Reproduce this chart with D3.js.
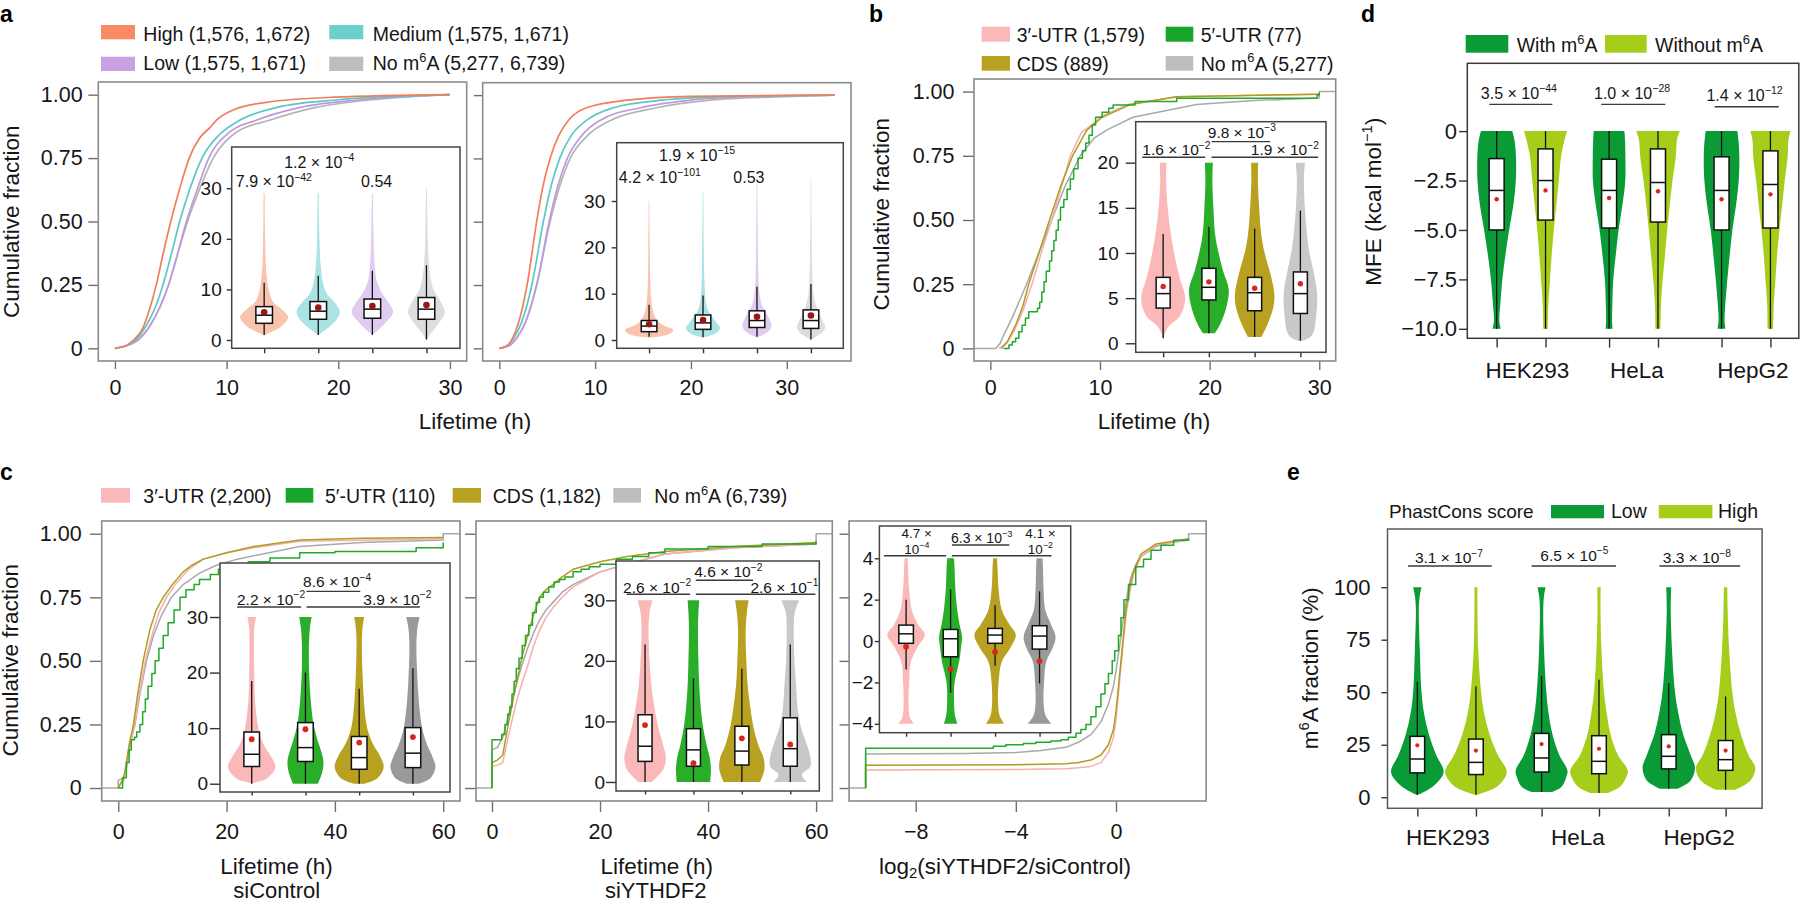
<!DOCTYPE html>
<html>
<head>
<meta charset="utf-8">
<script src="https://cdn.jsdelivr.net/npm/d3@7/dist/d3.min.js"></script>
<style>
html,body{margin:0;padding:0;background:#fff;}
svg{display:block;}
</style>
</head>
<body>
<svg id="fig" width="1800" height="904" xmlns="http://www.w3.org/2000/svg"></svg>
<script>
// ======================= DATA =======================
const cumTicks = [0, 0.25, 0.5, 0.75, 1];
const cumTickLabels = ['0', '0.25', '0.50', '0.75', '1.00'];
const lifeTicks30 = [0, 10, 20, 30];
const lifeTickLabels30 = ['0', '10', '20', '30'];
const lifeTicks60 = [0, 20, 40, 60];
const lifeTickLabels60 = ['0', '20', '40', '60'];
const log2Ticks = [-8, -4, 0];
const log2TickLabels = ['\u22128', '\u22124', '0'];
const insetTicks30 = [0, 10, 20, 30];
const insetTickLabels30 = ['0', '10', '20', '30'];
const insetTicks20 = [0, 5, 10, 15, 20];
const insetTickLabels20 = ['0', '5', '10', '15', '20'];
const insetTicksLog = [-4, -2, 0, 2, 4];
const insetTickLabelsLog = ['\u22124', '\u22122', '0', '2', '4'];

// ---------- panel a ----------
const aLegendLabels = ['High (1,576, 1,672)', 'Medium (1,575, 1,671)', 'Low (1,575, 1,671)', 'No m^6^A (5,277, 6,739)'];
const aLeftHigh = [[0,0],[1,0.01],[1.6,0.03],[2.5,0.08],[3,0.14],[3.7,0.25],[4.3,0.37],[5,0.5],[5.8,0.63],[6.65,0.75],[7.6,0.83],[8.5,0.87],[9.1,0.9],[10.6,0.94],[13.6,0.97],[19.6,0.99],[30,1]];
const aLeftMedium = [[0,0],[1,0.01],[1.8,0.03],[2.8,0.09],[3.5,0.15],[4.3,0.25],[5.1,0.38],[5.8,0.5],[6.8,0.64],[7.8,0.75],[9.3,0.84],[11.2,0.9],[14.5,0.95],[20,0.98],[30,1]];
const aLeftLow = [[0,0],[1,0.01],[2,0.03],[3,0.08],[4,0.16],[4.8,0.25],[5.6,0.37],[6.4,0.5],[7.4,0.63],[8.4,0.75],[10.2,0.85],[12.7,0.9],[16.6,0.95],[22,0.98],[30,1]];
const aLeftNo = [[0,0],[1,0.01],[2,0.03],[3,0.08],[4,0.16],[4.8,0.25],[5.6,0.37],[6.5,0.5],[7.6,0.63],[8.8,0.75],[10.8,0.85],[13.9,0.9],[18,0.95],[23,0.98],[30,1]];
const aRightHigh = [[0,0],[0.8,0.01],[1.4,0.04],[2,0.1],[2.9,0.25],[3.9,0.5],[4.5,0.63],[5.3,0.75],[6.2,0.84],[7.2,0.9],[9.1,0.95],[13.3,0.98],[20,0.995],[35,1]];
const aRightMedium = [[0,0],[0.8,0.01],[1.5,0.04],[2.3,0.1],[3.4,0.25],[4.6,0.5],[5.4,0.64],[6.3,0.75],[7.5,0.84],[9.1,0.9],[11.9,0.95],[17,0.98],[25,0.995],[35,1]];
const aRightLow = [[0,0],[1,0.01],[1.8,0.04],[2.7,0.1],[3.9,0.25],[5.2,0.5],[6.1,0.64],[7.1,0.75],[8.6,0.84],[10.5,0.9],[14.7,0.95],[20,0.98],[27,0.995],[35,1]];
const aRightNo = [[0,0],[1,0.01],[1.8,0.04],[2.7,0.1],[3.9,0.25],[5.3,0.5],[6.3,0.64],[7.4,0.75],[9.2,0.84],[11.6,0.9],[16.4,0.95],[22,0.98],[29,0.993],[35,1]];
// box stats: [lower whisker, Q1, median, Q3, upper whisker, mean]
const aLeftBoxes = [[1.0,3.3,4.9,6.6,11.3,5.5],[1.0,4.1,5.7,7.6,12.7,6.4],[1.0,4.3,6.1,8.1,13.7,6.7],[0.1,4.1,6.1,8.4,14.8,6.9]];
const aRightBoxes = [[0.7,1.8,3.0,4.2,7.6,3.4],[0.6,2.3,3.7,5.4,9.6,4.3],[0.7,2.7,4.2,6.3,11.5,5.0],[0.1,2.5,4.2,6.5,12.1,5.3]];
// violin density profiles: [value, relative density]
const aLeftViolins = [
  [[1,0],[1.5,6],[2.5,16],[4.5,24],[6,18],[7.5,9],[10,4.5],[14,2],[20,1],[29,0.5]],
  [[1,0],[2,7],[3.5,16],[5.5,21.7],[7.5,16],[9,9],[11,5],[15,2.3],[22,1],[29,0.5]],
  [[1,0],[2.2,7],[3.8,15],[5.5,20.8],[7.5,16],[9.5,9],[12,4],[16,2],[22,1],[29,0.5]],
  [[0,0],[1.5,5],[3.5,13],[5.5,18.3],[8,13],[10,7],[13,3.5],[18,1.6],[25,0.8],[30,0.4]]
];
const aRightViolins = [
  [[0.5,0],[0.8,12],[1.5,22],[2.2,24],[3,16],[4,9],[5.5,5],[8,2.5],[12,1.3],[20,0.7],[30,0.3]],
  [[0.5,0],[1,8],[1.8,15],[2.6,17],[3.6,14],[4.8,10],[6,6],[8,3],[12,1.5],[20,0.8],[32,0.3]],
  [[0.6,0],[1.2,7],[2.2,13],[3.2,14.5],[4.5,12.5],[6,9],[7.5,5],[10,2.5],[15,1.3],[25,0.7],[34,0.3]],
  [[0,0],[0.8,6],[1.8,12],[2.8,14.2],[4,12],[5.5,9],[7.5,5],[10,2.5],[15,1.3],[25,0.6],[35,0.3]]
];
const aLeftPvals = ['7.9 \u00d7 10^\u221242^', '1.2 \u00d7 10^\u22124^', '0.54'];
const aRightPvals = ['4.2 \u00d7 10^\u2212101^', '1.9 \u00d7 10^\u221215^', '0.53'];

// ---------- panel b ----------
const bLegendLabels = ['3\u2032-UTR (1,579)', '5\u2032-UTR (77)', 'CDS (889)', 'No m^6^A (5,277)'];
const b3UTR = [[0.8,0],[1.5,0.02],[2.2,0.07],[3,0.15],[3.8,0.25],[4.7,0.38],[5.6,0.5],[6.5,0.63],[7.3,0.75],[8.3,0.84],[9.4,0.875],[10,0.9],[12.5,0.95],[17,0.98],[30,0.99]];
const bCDS = [[1,0],[1.6,0.03],[2.4,0.1],[3,0.17],[3.5,0.25],[4.5,0.38],[5.4,0.5],[6.4,0.63],[7.5,0.75],[8.8,0.85],[10.2,0.9],[12.8,0.95],[17,0.98],[30,0.99]];
const bNo = [[-1.49,0],[0.5,0],[0.9,0.02],[1.2,0.05],[2,0.12],[2.6,0.18],[3.3,0.25],[4.4,0.37],[5.6,0.5],[6.8,0.63],[8.2,0.75],[9.5,0.82],[10.6,0.85],[13,0.9],[18.8,0.95],[24,0.965],[30,0.975],[30,1],[31.5,1]];
const b5UTR = [[1.2,0],[1.7,0.013],[2,0.026],[2.3,0.04],[2.6,0.065],[2.9,0.09],[3.2,0.117],[3.5,0.143],[4.3,0.156],[4.5,0.18],[4.7,0.22],[4.9,0.26],[5.1,0.3],[5.4,0.34],[5.6,0.38],[5.8,0.42],[6,0.46],[6.2,0.5],[6.4,0.55],[6.7,0.58],[7,0.62],[7.3,0.66],[7.6,0.7],[8,0.74],[8.4,0.77],[8.7,0.8],[9,0.83],[9.3,0.87],[9.6,0.9],[10.2,0.92],[10.8,0.935],[11.2,0.948],[13.2,0.961],[17,0.974],[29.8,0.987],[30,0.995]];
const bBoxes = [[0.55,3.9,5.5,7.3,12.1,6.3],[1.1,4.8,6.2,8.3,12.9,6.8],[0.7,3.6,5.6,7.3,12.7,6.1],[0.3,3.3,5.5,7.9,14.7,6.6]];
const bViolins = [
  [[0.5,0],[1.8,5],[3,16.7],[5,22],[7,17.2],[9,12.8],[12,7.8],[15,4.5],[18,3],[20,3.3]],
  [[1.1,5.8],[2,10.8],[4,17.5],[6,19.8],[8,14.2],[10,9.7],[12,6.3],[15,4.5],[18,3.5],[20,4]],
  [[0.7,6.7],[2,12.5],[4,18.7],[5.5,19.7],[8,15],[10,10],[12,6.7],[15,4.5],[18,3.3],[20,3.5]],
  [[0.2,0],[0.6,9],[1.2,13],[3,15.8],[5.5,16.7],[8,13],[10,9.2],[12,6.7],[15,4.5],[18,3.5],[20,4.5]]
];
const bPvals = ['1.6 \u00d7 10^\u22122^', '9.8 \u00d7 10^\u22123^', '1.9 \u00d7 10^\u22122^'];

// ---------- panel c ----------
const cLegendLabels = ['3\u2032-UTR (2,200)', '5\u2032-UTR (110)', 'CDS (1,182)', 'No m^6^A (6,739)'];
const c1No = [[-3.06,0],[0,0],[0,0.03],[1,0.04],[1.5,0.08],[2,0.15],[2.5,0.2],[3.1,0.25],[4,0.37],[5.2,0.5],[6.5,0.6],[8,0.68],[9.8,0.75],[12,0.8],[15,0.845],[18,0.875],[22,0.9],[33.5,0.95],[45,0.965],[60,0.975],[60,1],[63.1,1]];
const c1CDS = [[0,0],[0.5,0.02],[1,0.04],[1.5,0.1],[2,0.17],[2.8,0.25],[3.6,0.37],[4.6,0.5],[5.8,0.62],[7,0.7],[8.3,0.75],[10,0.8],[12,0.85],[13.5,0.875],[15.7,0.9],[20,0.925],[25,0.95],[33.5,0.975],[45,0.982],[60,0.985]];
const c13UTR = [[0,0],[0.5,0.02],[1,0.03],[1.5,0.08],[2,0.15],[3,0.25],[3.9,0.37],[5,0.5],[6.2,0.6],[7.5,0.69],[8.9,0.75],[10.5,0.8],[13,0.86],[15.7,0.9],[20,0.925],[25,0.945],[33.5,0.97],[60,0.98]];
const c15UTR = [[0,0],[0.8,0.04],[1.5,0.1],[2,0.15],[2.4,0.19],[3,0.2],[3.4,0.22],[4,0.25],[4.5,0.3],[5,0.35],[5.5,0.4],[6.2,0.45],[6.8,0.5],[7.5,0.55],[8.3,0.6],[9.2,0.65],[10.3,0.7],[11.4,0.75],[12.5,0.78],[14,0.8],[15,0.82],[17,0.84],[18.5,0.86],[20,0.875],[24,0.89],[28,0.905],[33.5,0.925],[40,0.93],[55,0.945],[60,0.965]];
const c2No = [[-2.96,0],[0,0],[0,0.15],[1,0.16],[2,0.2],[3,0.28],[4.4,0.4],[5.5,0.48],[6.6,0.55],[7.7,0.61],[8.8,0.66],[10,0.7],[11.3,0.73],[13,0.77],[15,0.8],[20,0.85],[25,0.88],[32,0.92],[45,0.945],[60,0.96],[60,1],[63,1]];
const c2CDS = [[0,0],[0,0.1],[1,0.11],[2,0.13],[3,0.25],[4.4,0.4],[5.5,0.51],[6.6,0.6],[7.7,0.68],[8.8,0.75],[10,0.78],[11.3,0.8],[13,0.83],[15,0.86],[20,0.89],[25,0.91],[32,0.93],[45,0.95],[60,0.965]];
const c23UTR = [[0,0],[0,0.085],[1,0.09],[2,0.1],[3,0.2],[4.4,0.33],[5.5,0.41],[6.6,0.48],[7.7,0.56],[8.8,0.62],[10,0.67],[11.3,0.71],[13,0.75],[15,0.79],[20,0.85],[25,0.88],[32,0.92],[45,0.945],[60,0.96]];
const c25UTR = [[0,0],[0,0.19],[1.8,0.21],[2.4,0.25],[2.9,0.29],[3.3,0.32],[3.7,0.37],[4.1,0.42],[4.5,0.47],[5,0.51],[5.6,0.56],[6.2,0.6],[6.8,0.64],[7.5,0.69],[8.2,0.73],[8.8,0.75],[9.5,0.77],[10.5,0.79],[11.5,0.81],[12.5,0.82],[13.5,0.83],[15,0.85],[16.5,0.86],[18,0.87],[20,0.88],[23,0.9],[26,0.91],[29,0.925],[32,0.94],[40,0.95],[50,0.96],[60,0.97]];
const c3No = [[-10.66,0],[-10,0],[-10,0.134],[-6,0.136],[-4,0.14],[-3,0.148],[-2,0.16],[-1.5,0.18],[-1,0.21],[-0.6,0.26],[-0.3,0.33],[-0.1,0.4],[0,0.46],[0.15,0.56],[0.3,0.67],[0.45,0.76],[0.6,0.83],[0.8,0.88],[1,0.91],[1.6,0.95],[2.2,0.965],[2.9,0.975],[2.9,1],[3.6,1]];
const c3CDS = [[-10,0],[-10,0.09],[-4,0.092],[-2,0.095],[-1.5,0.1],[-1,0.11],[-0.6,0.13],[-0.3,0.17],[-0.1,0.23],[0,0.3],[0.1,0.4],[0.2,0.5],[0.3,0.6],[0.4,0.7],[0.55,0.79],[0.7,0.85],[1,0.92],[1.6,0.96],[2.9,0.98]];
const c33UTR = [[-10,0],[-10,0.071],[-4,0.073],[-2,0.076],[-1.5,0.08],[-1,0.085],[-0.6,0.1],[-0.3,0.14],[-0.1,0.2],[0,0.27],[0.1,0.37],[0.2,0.48],[0.3,0.58],[0.4,0.68],[0.55,0.77],[0.7,0.84],[1,0.91],[1.6,0.955],[2.9,0.975]];
const c35UTR = [[-10,0],[-10,0.156],[-4.9,0.164],[-4.4,0.17],[-3.7,0.175],[-3.2,0.18],[-2.6,0.185],[-2.2,0.19],[-1.9,0.2],[-1.6,0.215],[-1.4,0.23],[-1.2,0.25],[-1,0.28],[-0.8,0.32],[-0.6,0.37],[-0.44,0.41],[-0.3,0.45],[-0.15,0.5],[-0.05,0.54],[0.1,0.6],[0.2,0.67],[0.32,0.74],[0.5,0.8],[0.79,0.87],[1.1,0.9],[1.4,0.935],[1.8,0.955],[2.3,0.974],[2.9,0.98]];
const c1Boxes = [[0,3.1,5.3,9.3,18.5,8.0],[0,4.0,6.5,11.0,20.0,9.8],[0,2.6,4.7,8.5,17.1,7.4],[0,2.9,5.5,10.1,20.8,8.4]];
const c2Boxes = [[0,3.4,5.9,11.1,22.7,9.4],[0,2.6,5.3,8.8,17.1,3.1],[0,2.8,5.1,9.2,18.7,7.2],[0,2.6,5.5,10.6,22.7,6.2]];
const c3Boxes = [[-1.37,-0.11,0.35,0.77,2.0,-0.27],[-2.5,-0.76,0.11,0.56,2.5,-1.35],[-1.2,-0.11,0.29,0.61,1.74,-0.52],[-2.05,-0.39,0.24,0.74,2.4,-0.97]];
const c1Violins = [
  [[0,0],[0.3,5],[1,15.8],[3,23.8],[5,19],[7,12],[10,6.7],[15,3.3],[20,2.5],[25,2.3],[28,2.5],[29.5,3.8],[30,4.3]],
  [[0,12.5],[2,16.7],[4,18],[6,15.5],[8,11.8],[11,7.8],[15,5.3],[20,3.7],[25,3.5],[28,4.5],[30,6.2]],
  [[0,5],[1,18.3],[3,24.5],[5,20.8],[7,14.2],[10,8],[15,4.7],[20,3.3],[25,2.7],[28,3.3],[30,5]],
  [[0,5.8],[1,17.5],[3,22.5],[5,19.2],[7,14.2],[10,9.2],[15,5.8],[20,4.2],[25,3.5],[28,4.5],[30,6.7]]
];
const c2Violins = [
  [[0,6.7],[2,18],[4,20.8],[6,18.3],[9,13.3],[12,9.7],[16,6.3],[20,4.5],[25,3.5],[28,4.5],[30,7.5]],
  [[0,16.7],[2,17.5],[4,16.3],[6,13.3],[9,9.7],[12,7.5],[16,5.8],[20,5],[25,4.5],[28,5],[30,5.8]],
  [[0,18.3],[2,22.5],[4,21.7],[6,16.7],[9,11.7],[12,8.7],[16,5.8],[20,4.5],[25,3.8],[28,5],[30,6.8]],
  [[0,16.7],[1.2,11.7],[2.5,20],[4,20.3],[6,17],[9,10.8],[12,7.5],[16,5.8],[20,4.2],[25,3.5],[28,4.5],[30,9]]
];
const c3Violins = [
  [[-4,7.7],[-3.7,3.8],[-3,2.5],[-2,3],[-1,4.8],[-0.3,11.5],[0.3,18.8],[0.8,12],[1.5,5.7],[2.5,3],[3.5,2],[4,1.5]],
  [[-4,6.7],[-3.6,4.4],[-3,3.5],[-2,4],[-1,8.6],[-0.3,10.5],[0.2,11.5],[0.8,9],[1.5,6.7],[2.5,4.8],[3.5,4],[4,3.4]],
  [[-4,9],[-3.6,4.5],[-3,3],[-2,3.5],[-1,6.7],[-0.3,15.7],[0.3,20.7],[0.8,14.4],[1.5,6.7],[2.5,3.5],[3.5,2.5],[4,2]],
  [[-4,11.9],[-3.6,6],[-3,4],[-2,4.5],[-1,6.7],[-0.3,13.4],[0.2,16],[0.8,11.5],[1.5,5.7],[2.5,4],[3.5,3.5],[4,3]]
];
const c1Pvals = ['2.2 \u00d7 10^\u22122^', '8.6 \u00d7 10^\u22124^', '3.9 \u00d7 10^\u22122^'];
const c2Pvals = ['2.6 \u00d7 10^\u22122^', '4.6 \u00d7 10^\u22122^', '2.6 \u00d7 10^\u22121^'];
const c3Pvals = [['4.7 \u00d7', '10^\u22124^'], ['6.3 \u00d7 10^\u22123^'], ['4.1 \u00d7', '10^\u22122^']];

// ---------- panel d ----------
const cellLines = ['HEK293', 'HeLa', 'HepG2'];
const dLegendLabels = ['With m^6^A', 'Without m^6^A'];
const mfeTicks = [-10, -7.5, -5, -2.5, 0];
const mfeTickLabels = ['\u221210.0', '\u22127.5', '\u22125.0', '\u22122.5', '0'];
const dBoxes = [[-10,-5.0,-3.0,-1.39,0,-3.45],[-10,-4.5,-2.5,-0.9,0,-3.0],[-10,-4.9,-3.0,-1.42,0,-3.38],[-10,-4.6,-2.6,-0.9,0,-3.04],[-10,-5.0,-3.0,-1.3,0,-3.45],[-10,-4.9,-2.7,-1.0,0,-3.2]];
const dViolins = [
  [[-10,4.2],[-9.6,2.7],[-8.75,3.7],[-7.5,5.7],[-6.25,8.8],[-5,12.5],[-3.75,16.7],[-2.5,19.2],[-1.3,19.3],[-0.5,18],[0,15.7]],
  [[-10,2.2],[-8.75,2.8],[-7.5,4.5],[-6.25,6.2],[-5,8.3],[-3.75,10.8],[-2.5,13.3],[-1.3,15.5],[-0.45,19],[0,21.5]],
  [[-10,3.5],[-9.6,3],[-8.75,3.3],[-7.5,4.2],[-6.25,6.7],[-5,9.5],[-3.75,13.3],[-2.5,16.2],[-1.3,16.3],[-0.5,16],[0,15.3]],
  [[-10,2.5],[-8.75,3],[-7.5,4.7],[-6.25,7],[-5,9.2],[-3.75,11.7],[-2.5,14.5],[-1.3,17.8],[-0.45,19],[0,21.7]],
  [[-10,4],[-9.6,3],[-8.75,3.8],[-7.5,5.8],[-6.25,8.2],[-5,10.8],[-3.75,14.5],[-2.5,17.2],[-1.3,17.8],[-0.5,17],[0,15.8]],
  [[-10,2.8],[-8.75,3.3],[-7.5,5],[-6.25,6.7],[-5,9],[-3.75,11.7],[-2.5,14.3],[-1.3,17.2],[-0.45,18],[0,20]]
];
const dPvals = ['3.5 \u00d7 10^\u221244^', '1.0 \u00d7 10^\u221228^', '1.4 \u00d7 10^\u221212^'];

// ---------- panel e ----------
const eLegendTitle = 'PhastCons score';
const eLegendLabels = ['Low', 'High'];
const fracTicks = [0, 25, 50, 75, 100];
const fracTickLabels = ['0', '25', '50', '75', '100'];
const eBoxes = [[1.3,11.6,18.2,29,55,24.7],[1.3,10.8,16.6,27.7,52.8,22.2],[2.5,12,18.7,30.4,57.8,25.3],[2,11.2,17.1,29.3,55.9,23.1],[4,13.5,19.5,29.8,54.3,24.2],[3.6,12.8,17.9,27,48,22.2]];
const eViolins = [
  [[1,0],[5,15.3],[10,24.9],[13,26.2],[20,19],[30,11.5],[40,6.7],[50,4.2],[70,2.5],[90,1.5],[96,2.5],[100,4.2]],
  [[1,0],[5,21],[10,29.7],[13,30.6],[20,22],[30,13.6],[40,8.2],[50,5.2],[70,2.3],[90,1.5],[100,1.5]],
  [[2.5,10.5],[5,20],[10,25],[13,25.8],[20,17.8],[30,10.9],[40,7],[50,4.8],[70,2.5],[90,1.7],[96,2.5],[100,4]],
  [[2,8.6],[5,21],[10,27.7],[13,28.7],[20,19],[30,11.5],[40,7.7],[50,5],[70,2.5],[90,1.5],[100,1.7]],
  [[4,8.6],[8,22],[14,26.2],[20,22],[30,14.4],[40,9.6],[50,6.3],[70,3.3],[90,2],[100,2.5]],
  [[3.6,9.6],[8,24.9],[14,29.7],[20,23],[30,15.3],[40,10],[50,6.7],[70,3.6],[90,2],[100,1.7]]
];
const ePvals = ['3.1 \u00d7 10^\u22127^', '6.5 \u00d7 10^\u22125^', '3.3 \u00d7 10^\u22128^'];

// ======================= STYLE =======================
const FONT = "'Liberation Sans', Arial, Helvetica, sans-serif";
const aLine = ['#F07E5A', '#5CC7C7', '#BE98E0', '#B4B4B4'];
const aFill = ['#F9C3AE', '#AAE3E3', '#E1CCF1', '#DDDDDD'];
const aSwatch = ['#F88A66', '#6BCFCF', '#C8A1E4', '#BEBEBE'];
const rLine = ['#F5AFAF', '#22A82A', '#B39B1E', '#A9A9A9'];
const rSwatch = ['#FBB8B8', '#17A52A', '#B8A020', '#BEBEBE'];
const rFill = ['#FBB8B8', '#2AAE2A', '#B8A021'];
const gDark = '#0A9B37', gLight = '#A5CD19';

// ======================= HELPERS =======================
const svg = d3.select('#fig').attr('font-family', FONT);

function rich(t, str, size) {
  const parts = str.split(/(\^[^^]*\^|_[^_]*_)/).filter(s => s.length > 0);
  let back = 0;
  parts.forEach(p => {
    if (p.length > 1 && p[0] === '^' && p[p.length - 1] === '^') {
      t.append('tspan').attr('font-size', size * 0.66).attr('dy', -size * 0.42 + back).text(p.slice(1, -1));
      back = size * 0.42;
    } else if (p.length > 1 && p[0] === '_' && p[p.length - 1] === '_') {
      t.append('tspan').attr('font-size', size * 0.66).attr('dy', size * 0.22 + back).text(p.slice(1, -1));
      back = -size * 0.22;
    } else {
      t.append('tspan').attr('dy', back).text(p);
      back = 0;
    }
  });
}
function addText(g, str, x, y, size, anchor, opts) {
  opts = opts || {};
  const t = g.append('text').attr('x', x).attr('y', y).attr('font-size', size)
    .attr('text-anchor', anchor || 'start').attr('fill', opts.fill || '#161616');
  if (opts.weight) t.attr('font-weight', opts.weight);
  if (opts.rotate) t.attr('transform', `rotate(-90 ${x} ${y})`);
  rich(t, str, size);
  return t;
}
function styleAxis(a, fs, color) {
  a.select('.domain').remove();
  a.attr('font-family', FONT).attr('font-size', fs);
  a.selectAll('line').attr('stroke', color || '#707070').attr('stroke-width', 1.4);
  a.selectAll('text').attr('fill', '#161616');
}
function cdfPanel(c) {
  const g = svg.append('g');
  const f = c.frame;
  const x = d3.scaleLinear().domain(c.xDomain).range([f.x, f.x + f.w]);
  const y = d3.scaleLinear().domain(c.yDomain).range([f.y + f.h, f.y]);
  c.series.forEach(s => {
    const line = d3.line().x(d => x(d[0])).y(d => y(d[1])).curve(s.curve || d3.curveLinear);
    g.append('path').attr('d', line(s.data)).attr('fill', 'none').attr('stroke', s.color)
      .attr('stroke-width', s.width || 1.5).attr('stroke-linejoin', 'round');
  });
  const xa = d3.axisBottom(x).tickValues(c.xTicks).tickFormat((d, i) => c.xLabels[i])
    .tickSize(c.xTickLen).tickPadding(c.xPad);
  styleAxis(g.append('g').attr('transform', `translate(0,${f.y + f.h})`).call(xa), c.fs);
  const ya = d3.axisLeft(y).tickValues(c.yTicks).tickFormat((d, i) => c.yLabels ? c.yLabels[i] : '')
    .tickSize(c.yTickLen).tickPadding(c.yPad);
  styleAxis(g.append('g').attr('transform', `translate(${f.x},0)`).call(ya), c.fs);
  g.append('rect').attr('x', f.x).attr('y', f.y).attr('width', f.w).attr('height', f.h)
    .attr('fill', 'none').attr('stroke', '#8a8a8a').attr('stroke-width', 1.6);
  return { g, x, y };
}
function violinPanel(c) {
  const g = svg.append('g');
  const f = c.frame;
  if (c.bg) g.append('rect').attr('x', f.x).attr('y', f.y).attr('width', f.w).attr('height', f.h).attr('fill', '#fff');
  const x = d3.scaleLinear().domain(c.xDomain).range([f.x, f.x + f.w]);
  const y = d3.scaleLinear().domain(c.yDomain).range([f.y + f.h, f.y]);
  const w = d3.scaleLinear().domain([0, 1]).range([0, c.wUnit || 1]);
  c.violins.forEach((prof, i) => {
    const cx = x(c.positions[i]);
    const area = d3.area().curve(d3.curveCatmullRom.alpha(0.5))
      .y(d => y(d[0])).x0(d => cx - w(d[1])).x1(d => cx + w(d[1]));
    g.append('path').attr('d', area(prof)).attr('fill', c.fills[i]).attr('stroke', 'none');
  });
  c.boxes.forEach((b, i) => {
    const cx = x(c.positions[i]), bw = c.boxHalf;
    const [lo, q1, med, q3, hi, mean] = b;
    g.append('line').attr('x1', cx).attr('x2', cx).attr('y1', y(lo)).attr('y2', y(hi))
      .attr('stroke', '#111').attr('stroke-width', 1.3);
    g.append('rect').attr('x', cx - bw).attr('y', y(q3)).attr('width', 2 * bw).attr('height', y(q1) - y(q3))
      .attr('fill', '#fff').attr('stroke', '#111').attr('stroke-width', 1.5);
    g.append('line').attr('x1', cx - bw).attr('x2', cx + bw).attr('y1', y(med)).attr('y2', y(med))
      .attr('stroke', '#111').attr('stroke-width', 1.5);
    g.append('circle').attr('cx', cx).attr('cy', y(mean)).attr('r', c.meanR).attr('fill', c.meanColor);
  });
  const xa = d3.axisBottom(x).tickValues(c.positions).tickFormat('').tickSize(c.xTickLen);
  styleAxis(g.append('g').attr('transform', `translate(0,${f.y + f.h})`).call(xa), c.fs, '#333');
  const ya = d3.axisLeft(y).tickValues(c.yTicks).tickFormat((d, i) => c.yLabels[i])
    .tickSize(c.yTickLen).tickPadding(c.yPad);
  styleAxis(g.append('g').attr('transform', `translate(${f.x},0)`).call(ya), c.fs, '#333');
  g.append('rect').attr('x', f.x).attr('y', f.y).attr('width', f.w).attr('height', f.h)
    .attr('fill', 'none').attr('stroke', c.frameColor || '#444').attr('stroke-width', 1.5);
  (c.notes || []).forEach(n => {
    if (n.line) g.append('line').attr('x1', x(n.line[0])).attr('x2', x(n.line[1]))
      .attr('y1', y(n.line[2])).attr('y2', y(n.line[2])).attr('stroke', '#3a3a3a').attr('stroke-width', 1.4);
    n.text.forEach((s, k) => addText(g, s, x(n.x), y(n.y[k]), n.size || c.noteSize, 'middle'));
  });
  return { g, x, y };
}
function legendItem(rect, color, label, tx, base, size) {
  svg.append('rect').attr('x', rect[0]).attr('y', rect[1]).attr('width', rect[2]).attr('height', rect[3]).attr('fill', color);
  addText(svg, label, tx, base, size, 'start');
}

// ======================= PANEL LETTERS =======================
[['a', 0, 21.5], ['b', 869, 21.5], ['d', 1361, 21.5], ['c', 0, 480.3], ['e', 1287, 480]].forEach(l =>
  addText(svg, l[0], l[1], l[2], 23, 'start', { weight: 'bold', fill: '#000' }));

// ======================= PANEL a =======================
legendItem([101, 25, 34, 14.3], aSwatch[0], aLegendLabels[0], 143.3, 40.7, 19.5);
legendItem([329.3, 25, 34, 14.3], aSwatch[1], aLegendLabels[1], 372.7, 40.7, 19.5);
legendItem([101, 56.7, 34, 14.3], aSwatch[2], aLegendLabels[2], 143.3, 69.8, 19.5);
legendItem([329.3, 56.7, 34, 14.3], aSwatch[3], aLegendLabels[3], 372.7, 69.8, 19.5);

const smooth = d3.curveMonotoneX;
cdfPanel({
  frame: { x: 98.3, y: 82, w: 368.4, h: 279 }, xDomain: [-1.49, 31.5], yDomain: [-0.05, 1.05],
  xTicks: lifeTicks30, xLabels: lifeTickLabels30, yTicks: cumTicks, yLabels: cumTickLabels,
  xTickLen: 8, xPad: 11, yTickLen: 10, yPad: 5.6, fs: 21.5,
  series: [
    { data: aLeftNo, color: aLine[3], curve: smooth, width: 1.7 },
    { data: aLeftLow, color: aLine[2], curve: smooth, width: 1.7 },
    { data: aLeftMedium, color: aLine[1], curve: smooth, width: 1.7 },
    { data: aLeftHigh, color: aLine[0], curve: smooth, width: 1.7 }]
});
violinPanel({
  frame: { x: 231.7, y: 147, w: 228.3, h: 201.3 }, xDomain: [0.4, 4.62], yDomain: [-1.64, 38.16],
  positions: [1, 2, 3, 4], violins: aLeftViolins, fills: aFill, boxes: aLeftBoxes,
  boxHalf: 8.3, meanR: 3.3, meanColor: '#9b1515', bg: true,
  yTicks: insetTicks30, yLabels: insetTickLabels30, yTickLen: 5, yPad: 5, xTickLen: 5, fs: 19,
  noteSize: 16,
  notes: [{ x: 1.18, y: [30.2], text: [aLeftPvals[0]] }, { x: 2.02, y: [34.1], text: [aLeftPvals[1]] }, { x: 3.08, y: [30.2], text: [aLeftPvals[2]] }]
});
cdfPanel({
  frame: { x: 482.7, y: 82.7, w: 368.3, h: 278.3 }, xDomain: [-1.73, 36.7], yDomain: [-0.05, 1.049],
  xTicks: lifeTicks30, xLabels: lifeTickLabels30, yTicks: cumTicks, yLabels: null,
  xTickLen: 8, xPad: 11, yTickLen: 9, yPad: 5, fs: 21.5,
  series: [
    { data: aRightNo, color: aLine[3], curve: smooth, width: 1.7 },
    { data: aRightLow, color: aLine[2], curve: smooth, width: 1.7 },
    { data: aRightMedium, color: aLine[1], curve: smooth, width: 1.7 },
    { data: aRightHigh, color: aLine[0], curve: smooth, width: 1.7 }]
});
violinPanel({
  frame: { x: 616.7, y: 142.7, w: 226.6, h: 205.6 }, xDomain: [0.4, 4.6], yDomain: [-1.79, 42.58],
  positions: [1, 2, 3, 4], violins: aRightViolins, fills: aFill, boxes: aRightBoxes,
  boxHalf: 7.8, meanR: 3.3, meanColor: '#9b1515', bg: true,
  yTicks: insetTicks30, yLabels: insetTickLabels30, yTickLen: 5, yPad: 6.5, xTickLen: 5, fs: 19,
  noteSize: 16,
  notes: [{ x: 1.2, y: [33.95], text: [aRightPvals[0]] }, { x: 1.89, y: [38.6], text: [aRightPvals[1]] }, { x: 2.85, y: [33.95], text: [aRightPvals[2]] }]
});
addText(svg, 'Cumulative fraction', 19.5, 221.7, 22.5, 'middle', { rotate: true });
addText(svg, 'Lifetime (h)', 475, 429.3, 22.5, 'middle');

// ======================= PANEL b =======================
legendItem([981.7, 26.7, 28.3, 15], rSwatch[0], bLegendLabels[0], 1016.7, 41.7, 19.5);
legendItem([1165.7, 26.7, 27.6, 15], rSwatch[1], bLegendLabels[1], 1200.7, 41.7, 19.5);
legendItem([981.7, 56, 28.3, 14.7], rSwatch[2], bLegendLabels[2], 1016.7, 70.5, 19.5);
legendItem([1165.7, 56, 27.6, 14.7], rSwatch[3], bLegendLabels[3], 1200.7, 70.5, 19.5);
cdfPanel({
  frame: { x: 974, y: 79, w: 361.7, h: 282 }, xDomain: [-1.49, 31.5], yDomain: [-0.049, 1.049],
  xTicks: lifeTicks30, xLabels: lifeTickLabels30, yTicks: cumTicks, yLabels: cumTickLabels,
  xTickLen: 9, xPad: 10, yTickLen: 11, yPad: 8.5, fs: 21.5,
  series: [
    { data: bNo, color: rLine[3] },
    { data: b3UTR, color: rLine[0] },
    { data: bCDS, color: rLine[2] },
    { data: b5UTR, color: rLine[1], curve: d3.curveStepAfter }]
});
violinPanel({
  frame: { x: 1135.7, y: 121.7, w: 190.3, h: 230.6 }, xDomain: [0.4, 4.56], yDomain: [-1.0, 24.54],
  positions: [1, 2, 3, 4], violins: bViolins, fills: [rFill[0], rFill[1], rFill[2], '#C9C9C9'], boxes: bBoxes,
  boxHalf: 7, meanR: 2.7, meanColor: '#D8261C', bg: true,
  yTicks: insetTicks20, yLabels: insetTickLabels20, yTickLen: 10, yPad: 7, xTickLen: 5, fs: 19,
  noteSize: 15.5,
  notes: [
    { x: 1.29, y: [20.85], text: [bPvals[0]], line: [0.54, 1.92, 20.6] },
    { x: 2.72, y: [22.77], text: [bPvals[1]], line: [2.06, 3.34, 22.33] },
    { x: 3.66, y: [20.85], text: [bPvals[2]], line: [2.06, 4.39, 20.6] }]
});
addText(svg, 'Cumulative fraction', 889, 214.2, 22.5, 'middle', { rotate: true });
addText(svg, 'Lifetime (h)', 1154, 429.3, 22.5, 'middle');

// ======================= PANEL d =======================
legendItem([1465.7, 35, 42.6, 17.7], gDark, dLegendLabels[0], 1516.7, 52.3, 19.5);
legendItem([1605, 35, 41.7, 17.7], gLight, dLegendLabels[1], 1655, 52.3, 19.5);
const dPanel = violinPanel({
  frame: { x: 1467.3, y: 63.3, w: 331.5, h: 275 }, xDomain: [0.4, 7.18], yDomain: [-10.48, 3.43],
  positions: [1, 2, 3.3, 4.3, 5.6, 6.6], violins: dViolins,
  fills: [gDark, gLight, gDark, gLight, gDark, gLight], boxes: dBoxes,
  boxHalf: 7.5, meanR: 2.2, meanColor: '#D8261C', bg: false, frameColor: '#3a3a3a',
  yTicks: mfeTicks, yLabels: mfeTickLabels, yTickLen: 8.3, yPad: 2, xTickLen: 9.3, fs: 22,
  noteSize: 16,
  notes: [
    { x: 1.455, y: [1.62], text: [dPvals[0]], line: [0.85, 2.14, 1.35] },
    { x: 3.77, y: [1.62], text: [dPvals[1]], line: [3.14, 4.45, 1.35] },
    { x: 6.07, y: [1.54], text: [dPvals[2]], line: [5.46, 6.77, 1.23] }]
});
[1.63, 3.87, 6.24].forEach((u, i) => addText(svg, cellLines[i], dPanel.x(u), 377.7, 22.5, 'middle'));
addText(svg, 'MFE (kcal mol^\u22121^)', 1381, 201.7, 22.5, 'middle', { rotate: true });

// ======================= PANEL c =======================
legendItem([101, 488, 29, 14.7], rSwatch[0], cLegendLabels[0], 143.3, 502.7, 19.5);
legendItem([285.7, 488, 27.6, 14.7], rSwatch[1], cLegendLabels[1], 325, 502.7, 19.5);
legendItem([452.7, 488, 28.3, 14.7], rSwatch[2], cLegendLabels[2], 492.7, 502.7, 19.5);
legendItem([613.3, 488, 27.7, 14.7], rSwatch[3], cLegendLabels[3], 654.3, 502.7, 19.5);

cdfPanel({
  frame: { x: 101.7, y: 521, w: 358.3, h: 280 }, xDomain: [-3.06, 63.1], yDomain: [-0.051, 1.05],
  xTicks: lifeTicks60, xLabels: lifeTickLabels60, yTicks: cumTicks, yLabels: cumTickLabels,
  xTickLen: 11, xPad: 11.4, yTickLen: 11.7, yPad: 8.3, fs: 21.5,
  series: [
    { data: c1No, color: rLine[3] },
    { data: c13UTR, color: rLine[0] },
    { data: c1CDS, color: rLine[2] },
    { data: c15UTR, color: rLine[1], curve: d3.curveStepAfter }]
});
violinPanel({
  frame: { x: 220, y: 563, w: 230, h: 229 }, xDomain: [0.41, 4.69], yDomain: [-1.49, 39.72],
  positions: [1, 2, 3, 4], violins: c1Violins, fills: [rFill[0], rFill[1], rFill[2], '#9A9A9A'], boxes: c1Boxes,
  boxHalf: 7.8, meanR: 2.9, meanColor: '#D8261C', bg: true,
  yTicks: insetTicks30, yLabels: insetTickLabels30, yTickLen: 10, yPad: 2, xTickLen: 3.5, fs: 19,
  noteSize: 15.5,
  notes: [
    { x: 1.36, y: [32.2], text: [c1Pvals[0]], line: [0.73, 1.92, 31.8] },
    { x: 2.59, y: [35.34], text: [c1Pvals[1]], line: [2.02, 3.02, 34.62] },
    { x: 3.71, y: [32.2], text: [c1Pvals[2]], line: [2.02, 4.13, 31.8] }]
});
cdfPanel({
  frame: { x: 476, y: 521, w: 356.3, h: 280 }, xDomain: [-2.96, 63.0], yDomain: [-0.051, 1.05],
  xTicks: lifeTicks60, xLabels: lifeTickLabels60, yTicks: cumTicks, yLabels: null,
  xTickLen: 11, xPad: 11.4, yTickLen: 11, yPad: 5, fs: 21.5,
  series: [
    { data: c2No, color: rLine[3] },
    { data: c23UTR, color: rLine[0] },
    { data: c2CDS, color: rLine[2] },
    { data: c25UTR, color: rLine[1], curve: d3.curveStepAfter }]
});
violinPanel({
  frame: { x: 616, y: 561, w: 203.3, h: 230 }, xDomain: [0.4, 4.6], yDomain: [-1.49, 36.49],
  positions: [1, 2, 3, 4], violins: c2Violins, fills: [rFill[0], rFill[1], rFill[2], '#C8C8C8'], boxes: c2Boxes,
  boxHalf: 7, meanR: 2.9, meanColor: '#D8261C', bg: true,
  yTicks: insetTicks30, yLabels: insetTickLabels30, yTickLen: 10, yPad: 1, xTickLen: 3.5, fs: 19,
  noteSize: 15.5,
  notes: [
    { x: 1.25, y: [31.25], text: [c2Pvals[0]], line: [0.62, 1.93, 30.99] },
    { x: 2.72, y: [33.8], text: [c2Pvals[1]], line: [2.05, 3.23, 33.3] },
    { x: 3.88, y: [31.25], text: [c2Pvals[2]], line: [2.05, 4.52, 30.99] }]
});
cdfPanel({
  frame: { x: 849.1, y: 521, w: 357, h: 280 }, xDomain: [-10.66, 3.6], yDomain: [-0.051, 1.05],
  xTicks: log2Ticks, xLabels: log2TickLabels, yTicks: cumTicks, yLabels: null,
  xTickLen: 11, xPad: 11.4, yTickLen: 9.5, yPad: 5, fs: 21.5,
  series: [
    { data: c3No, color: rLine[3] },
    { data: c33UTR, color: rLine[0] },
    { data: c3CDS, color: rLine[2] },
    { data: c35UTR, color: rLine[1], curve: d3.curveStepAfter }]
});
violinPanel({
  frame: { x: 879.4, y: 526, w: 191.3, h: 206.7 }, xDomain: [0.4, 4.7], yDomain: [-4.43, 5.56],
  positions: [1, 2, 3, 4], violins: c3Violins, fills: [rFill[0], rFill[1], rFill[2], '#9A9A9A'], boxes: c3Boxes,
  boxHalf: 7.3, meanR: 2.9, meanColor: '#D8261C', bg: true,
  yTicks: insetTicksLog, yLabels: insetTickLabelsLog, yTickLen: 4.6, yPad: 1.5, xTickLen: 4, fs: 19,
  noteSize: 14,
  notes: [
    { x: 1.24, y: [5.0, 4.22], text: c3Pvals[0], line: [0.5, 1.9, 4.12], size: 13.5 },
    { x: 2.70, y: [4.75], text: c3Pvals[1], line: [2.03, 3.32, 4.64] },
    { x: 4.02, y: [5.0, 4.22], text: c3Pvals[2], line: [2.03, 4.27, 4.12], size: 13.5 }]
});
addText(svg, 'Cumulative fraction', 18.5, 660.3, 22.5, 'middle', { rotate: true });
addText(svg, 'Lifetime (h)', 276.5, 873.5, 22.5, 'middle');
addText(svg, 'siControl', 276.7, 898, 22, 'middle');
addText(svg, 'Lifetime (h)', 656.7, 873.5, 22.5, 'middle');
addText(svg, 'siYTHDF2', 655.7, 898, 22, 'middle');
addText(svg, 'log_2_(siYTHDF2/siControl)', 1005, 873.5, 22.5, 'middle');

// ======================= PANEL e =======================
addText(svg, eLegendTitle, 1389, 518.3, 19, 'start');
legendItem([1551, 505, 53, 13.3], gDark, eLegendLabels[0], 1611, 518.3, 19.5);
legendItem([1658.8, 505, 53.6, 13.3], gLight, eLegendLabels[1], 1718, 518.3, 19.5);
const ePanel = violinPanel({
  frame: { x: 1387.5, y: 529, w: 374.6, h: 279.3 }, xDomain: [0.491, 6.883], yDomain: [-5.26, 127.7],
  positions: [1, 2, 3.12, 4.1, 5.29, 6.26], violins: eViolins,
  fills: [gDark, gLight, gDark, gLight, gDark, gLight], boxes: eBoxes,
  boxHalf: 7.3, meanR: 2.1, meanColor: '#D8261C', bg: false, frameColor: '#5a5a5a',
  yTicks: fracTicks, yLabels: fracTickLabels, yTickLen: 6, yPad: 11, xTickLen: 8.3, fs: 22,
  noteSize: 15.5,
  notes: [
    { x: 1.54, y: [111.4], text: [ePvals[0]], line: [0.84, 2.27, 110.1] },
    { x: 3.68, y: [112.5], text: [ePvals[1]], line: [2.95, 4.39, 110.1] },
    { x: 5.77, y: [111.4], text: [ePvals[2]], line: [5.13, 6.51, 110.1] }]
});
[1.52, 3.74, 5.81].forEach((u, i) => addText(svg, cellLines[i], ePanel.x(u), 844.5, 22.5, 'middle'));
addText(svg, 'm^6^A fraction (%)', 1318, 668.3, 22.5, 'middle', { rotate: true });
</script>
</body>
</html>
